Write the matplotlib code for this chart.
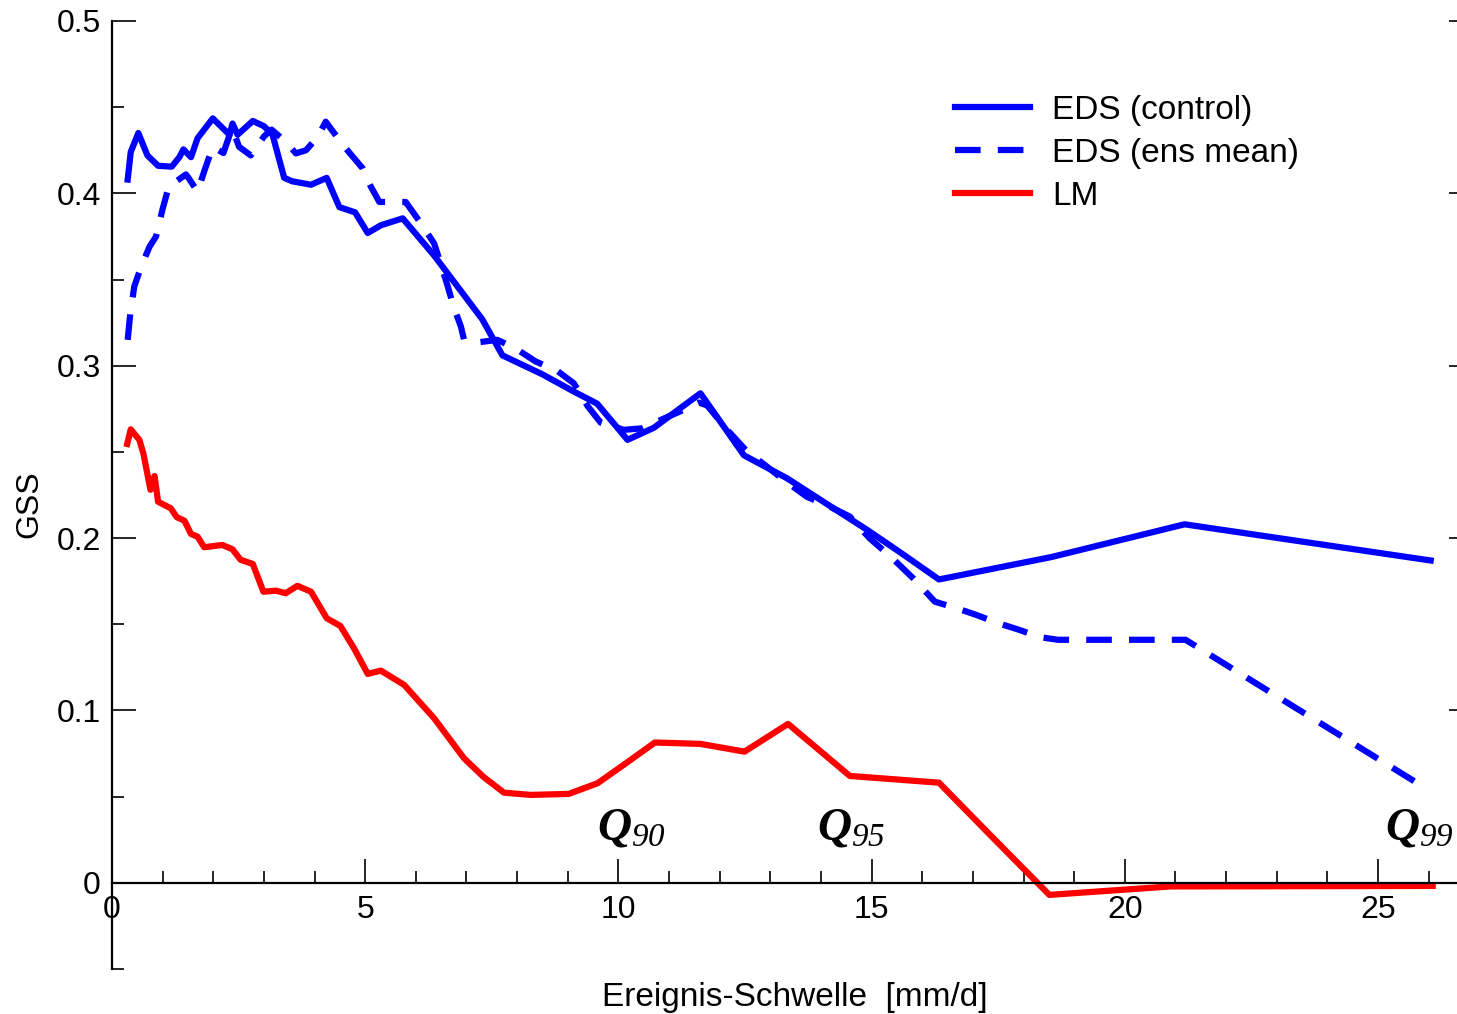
import numpy as np
import matplotlib
matplotlib.use('Agg')
import matplotlib.pyplot as plt
from matplotlib.ticker import MultipleLocator, FixedLocator

plt.rcParams['font.family'] = ['Liberation Sans', 'DejaVu Sans']
plt.rcParams['mathtext.fontset'] = 'custom'
plt.rcParams['mathtext.it'] = 'Liberation Serif:italic:bold'
plt.rcParams['mathtext.rm'] = 'Liberation Serif:italic'

# EDS (control)
x_ctrl = [0.31, 0.37, 0.52, 0.70, 0.77, 0.91, 1.18, 1.33, 1.41, 1.56, 1.69, 1.82,
          1.99, 2.32, 2.38, 2.48, 2.78, 3.00, 3.17, 3.40, 3.56, 3.93, 4.24, 4.49,
          4.80, 5.05, 5.31, 5.74, 6.36, 7.31, 7.71, 8.50, 9.12, 9.58, 10.18, 10.70,
          11.62, 12.48, 13.33, 14.0, 14.91, 15.6, 16.33, 18.55, 21.18, 26.04]
y_ctrl = [0.408, 0.424, 0.435, 0.422, 0.420, 0.416, 0.4155, 0.421, 0.4255, 0.421,
          0.432, 0.437, 0.4435, 0.434, 0.4405, 0.434, 0.442, 0.439, 0.434, 0.409,
          0.407, 0.405, 0.409, 0.392, 0.389, 0.377, 0.3815, 0.3855, 0.364, 0.327,
          0.306, 0.295, 0.285, 0.278, 0.257, 0.264, 0.284, 0.248, 0.2347, 0.222,
          0.2048, 0.191, 0.176, 0.189, 0.208, 0.187]

# EDS (ens mean)
x_ens = [0.31, 0.36, 0.44, 0.57, 0.74, 0.87, 1.0, 1.13, 1.26, 1.46, 1.51, 1.69,
         1.83, 1.99, 2.2, 2.37, 2.51, 2.74, 3.0, 3.15, 3.43, 3.63, 3.83, 4.06,
         4.22, 4.36, 4.62, 4.95, 5.11, 5.28, 5.44, 5.80, 6.1, 6.36, 6.49, 6.62,
         6.75, 6.89, 6.95, 7.18, 7.61, 7.97, 8.37, 8.79, 9.12, 9.39, 9.65, 10.11,
         10.47, 10.9, 11.29, 11.59, 11.75, 12.18, 12.51, 13.3, 13.72, 14.19, 14.57,
         14.96, 15.39, 15.82, 16.25, 16.68, 17.07, 17.5, 17.88, 18.33, 18.68,
         20.82, 21.2, 21.63, 25.85]
y_ens = [0.315, 0.33, 0.346, 0.357, 0.369, 0.375, 0.391, 0.405, 0.4068, 0.411,
         0.409, 0.401, 0.4136, 0.427, 0.4234, 0.438, 0.427, 0.422, 0.433, 0.437,
         0.430, 0.4232, 0.425, 0.4326, 0.4416, 0.436, 0.426, 0.4145, 0.404, 0.395,
         0.395, 0.395, 0.3826, 0.371, 0.3594, 0.347, 0.334, 0.3227, 0.3153, 0.3134,
         0.315, 0.310, 0.3024, 0.2971, 0.2898, 0.2767, 0.267, 0.2628, 0.2637,
         0.2694, 0.2744, 0.2786, 0.277, 0.2618, 0.2512, 0.233, 0.224, 0.218,
         0.2125, 0.1999, 0.1889, 0.1767, 0.1631, 0.1593, 0.1554, 0.1506, 0.1471,
         0.1425, 0.141, 0.141, 0.141, 0.1332, 0.0565]

# LM
x_lm = [0.30, 0.37, 0.54, 0.62, 0.76, 0.84, 0.91, 1.16, 1.28, 1.43, 1.56, 1.69,
        1.82, 2.18, 2.38, 2.54, 2.78, 2.99, 3.24, 3.43, 3.66, 3.93, 4.24, 4.51,
        4.78, 5.05, 5.31, 5.77, 6.36, 6.95, 7.33, 7.74, 8.27, 9.02, 9.59, 10.15,
        10.72, 11.62, 12.49, 13.35, 14.57, 16.33, 17.3, 18.51, 20.9, 26.08]
y_lm = [0.2546, 0.2631, 0.257, 0.249, 0.228, 0.236, 0.2211, 0.2173, 0.2121, 0.2101,
        0.2024, 0.2008, 0.1947, 0.196, 0.1935, 0.1874, 0.185, 0.1689, 0.1695, 0.168,
        0.1723, 0.1689, 0.1535, 0.149, 0.136, 0.1212, 0.1231, 0.1148, 0.0955,
        0.0723, 0.0616, 0.0523, 0.051, 0.0516, 0.0578, 0.0694, 0.0814, 0.0806,
        0.0761, 0.0922, 0.062, 0.0581, 0.029, -0.007, -0.0021, -0.0018]

quantiles = ['90', '95', '99']
q_x = [10.26, 14.6, 25.81]

fig = plt.figure(figsize=(14.57, 10.14), dpi=100)
ax = fig.add_axes([112 / 1457, 45 / 1014, 1 - 112 / 1457, 948 / 1014])

lw = 4.5
ax.plot(x_ctrl, y_ctrl, color='#0000ff', lw=lw, label='EDS (control)')
ax.plot(x_ens, y_ens, color='#0000ff', lw=lw, linestyle=(0, (4.1, 2.75)),
        label='EDS (ens mean)')
ax.plot(x_lm, y_lm, color='#ff0000', lw=lw, label='LM')

for q, xq in zip(quantiles, q_x):
    ax.text(xq, 0.025, r'$Q_{%s}$' % q, fontsize=34, ha='center', va='baseline')

ax.set_xlim(0, 26.56)
ax.set_ylim(-0.05, 0.5)

ax.spines['top'].set_visible(False)
ax.spines['right'].set_visible(False)
ax.spines['bottom'].set_position(('data', 0))
ax.spines['left'].set_linewidth(1.6)
ax.spines['bottom'].set_linewidth(1.6)

ax.xaxis.set_major_locator(FixedLocator([0, 5, 10, 15, 20, 25]))
ax.xaxis.set_minor_locator(MultipleLocator(1))
ax.set_xticklabels(['0', '5', '10', '15', '20', '25'])
ax.yaxis.set_major_locator(FixedLocator([0, 0.1, 0.2, 0.3, 0.4, 0.5]))
ax.yaxis.set_minor_locator(MultipleLocator(0.05))
ax.set_yticklabels(['0', '0.1', '0.2', '0.3', '0.4', '0.5'])

ax.tick_params(which='both', direction='in', width=1.2, labelsize=23)
ax.tick_params(which='major', length=17)
ax.tick_params(which='minor', length=8.6)
ax.tick_params(axis='y', pad=8)
ax.tick_params(axis='x', pad=9)

# short ticks on the right edge
ax2 = ax.twinx()
ax2.set_ylim(-0.05, 0.5)
for s in ax2.spines.values():
    s.set_visible(False)
ax2.yaxis.set_major_locator(FixedLocator([0.1, 0.2, 0.3, 0.4, 0.5]))
ax2.tick_params(direction='in', length=6, width=1.2, labelright=False)

ax.set_ylabel('GSS', fontsize=23)
ax.yaxis.set_label_coords(-0.05, 0.49)
ax.set_xlabel('Ereignis-Schwelle  [mm/d]', fontsize=24)
ax.xaxis.set_label_coords(0.508, -0.014)

leg = ax.legend(loc='upper left', bbox_to_anchor=(955 / 1457, 1 - 95 / 1014),
                bbox_transform=fig.transFigure, frameon=False, fontsize=24,
                handlelength=2.25, handletextpad=0.66, labelspacing=0.36,
                borderpad=0, borderaxespad=0)

fig.savefig('out.png', dpi=100)
